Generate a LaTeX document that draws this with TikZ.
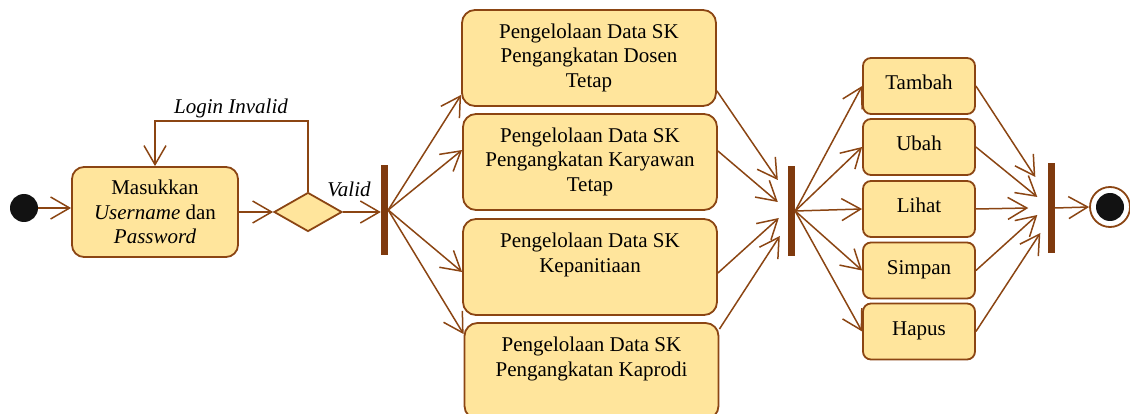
\documentclass[tikz,border=0pt]{standalone}
\usepackage{fontspec}
\setmainfont{Liberation Serif}
\usetikzlibrary{arrows.meta,shapes.geometric,calc}
\definecolor{brn}{HTML}{8B4513}
\definecolor{barc}{HTML}{7F3A0E}
\definecolor{fillc}{HTML}{FFE59C}
\newcommand{\bigtxt}[1]{\parbox[c][96pt][t]{254pt}{\centering\rule{0pt}{28.5pt}#1}}
\begin{document}
\begin{tikzpicture}[x=1pt,y=-1pt,
  txt/.style={font=\fontsize{21}{24.5}\selectfont},
  act/.style={txt, draw=brn, fill=fillc, line width=1.8pt, inner sep=0pt, align=center},
  bigact/.style={act, rounded corners=13pt, minimum width=254pt, minimum height=96pt},
  smallact/.style={act, rounded corners=8pt, minimum width=112pt, minimum height=56pt, text height=14pt, text depth=7pt},
  syncbar/.style={fill=barc, draw=none, minimum width=7pt, minimum height=90pt, inner sep=0pt},
  arr/.style={draw=brn, line width=1.5pt, -{Straight Barb[length=19pt,width=22pt,line width=1.5pt]}},
  lbl/.style={font=\fontsize{21}{24.5}\selectfont\itshape, inner sep=0pt},
]
\useasboundingbox (0,0) rectangle (1130,414);

% start / end
\node[circle, fill=black!93, minimum size=28pt, inner sep=0pt] (start) at (24,208) {};
\node[circle, draw=brn, fill=white, line width=1.8pt, minimum size=40pt, inner sep=0pt] (end) at (1110,207) {};
\node[circle, fill=black!93, minimum size=28pt, inner sep=0pt] (endin) at (end.center) {};

% first activity and decision
\node[act, rounded corners=12pt, minimum width=166pt, minimum height=90pt] (masuk) at (155,212)
  {Masukkan\\\textit{Username} dan\\\textit{Password}};
\node[diamond, draw=brn, fill=fillc, line width=1.8pt, minimum width=68pt, minimum height=39pt, inner sep=0pt] (dia) at (308,212) {};

% bars
\node[syncbar] (bar1) at (384.5,210) {};
\node[syncbar] (bar2) at (791.5,211) {};
\node[syncbar] (bar3) at (1051,208) {};

% big activities
\node[bigact] (A) at (589,58) {\bigtxt{Pengelolaan Data SK\\Pengangkatan Dosen\\Tetap}};
\node[bigact] (B) at (590,162) {\bigtxt{Pengelolaan Data SK\\Pengangkatan Karyawan\\Tetap}};
\node[bigact] (C) at (590,267) {\bigtxt{Pengelolaan Data SK\\Kepanitiaan}};
\node[bigact] (D) at (591.5,371) {\bigtxt{Pengelolaan Data SK\\Pengangkatan Kaprodi}};

% small activities
\node[smallact] (t1) at (919,86) {Tambah};
\node[smallact] (t2) at (919,147) {Ubah};
\node[smallact] (t3) at (919,209) {Lihat};
\node[smallact] (t4) at (919,270.5) {Simpan};
\node[smallact] (t5) at (919,331.5) {Hapus};

% labels
\node[lbl] (linv) at (231,108) {Login Invalid};
\node[lbl] (valid) at (349,189) {Valid};

% connectors
\draw[arr] (start.east) -- (start.east -| masuk.west);
\draw[arr] (masuk.east |- dia.west) -- (dia.west);
\draw[arr] (dia.east) -- (dia.east -| bar1.west);
\draw[arr] (dia.north) -- ++(0,-70.5) -| (masuk.north);

\draw[arr] (bar1.east) -- ($(A.south west)+(0,-12)$);
\draw[arr] (bar1.east) -- ($(B.west)+(0,-12)$);
\draw[arr] (bar1.east) -- ($(C.west)+(0,5)$);
\draw[arr] (bar1.east) -- ($(D.north west)+(0,12)$);

\draw[arr] ($(A.south east)+(0,-16)$) -- ($(bar2.west)+(-10,-31)$);
\draw[arr] ($(B.east)+(0,-11)$) -- ($(bar2.west)+(-10,-9)$);
\draw[arr] ($(C.east)+(0,6)$) -- ($(bar2.west)+(-9,7)$);
\draw[arr] ($(D.north east)+(0,7)$) -- ($(bar2.west)+(-8,25)$);

\draw[arr] (bar2.east) -- (t1.west);
\draw[arr] (bar2.east) -- (t2.west);
\draw[arr] (bar2.east) -- (t3.west);
\draw[arr] (bar2.east) -- (t4.west);
\draw[arr] (bar2.east) -- (t5.west);

\draw[arr] (t1.east) -- ($(bar3.west)+(-12,-31)$);
\draw[arr] (t2.east) -- ($(bar3.west)+(-10,-11)$);
\draw[arr] (t3.east) -- ($(bar3.west)+(-19,0)$);
\draw[arr] (t4.east) -- ($(bar3.west)+(-10,7)$);
\draw[arr] (t5.east) -- ($(bar3.west)+(-7,25)$);

\draw[arr] (bar3.east) -- (end.west);
\end{tikzpicture}
\end{document}
